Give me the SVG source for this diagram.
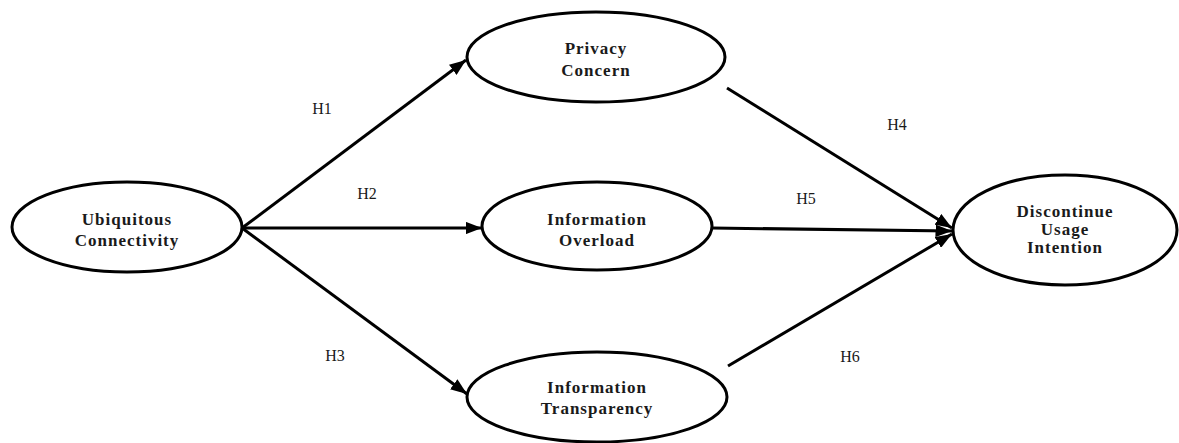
<svg xmlns="http://www.w3.org/2000/svg" width="1179" height="443" viewBox="0 0 1179 443">
<style>
.node ellipse{fill:#fff;stroke:#000;stroke-width:3}
.node text{font-family:"Liberation Serif","Times New Roman",serif;font-weight:bold;font-size:17px;letter-spacing:1px;text-anchor:middle;fill:#1a1a1a}
.edge{stroke:#000;stroke-width:3;fill:none;marker-end:url(#arr)}
.lbl{font-family:"Liberation Serif","Times New Roman",serif;font-size:16px;text-anchor:middle;fill:#1a1a1a}
</style>
<defs>
<marker id="arr" viewBox="0 0 10 10" refX="10" refY="5" markerWidth="5.5" markerHeight="4.2" orient="auto" markerUnits="strokeWidth" preserveAspectRatio="none">
<path d="M0,0 L10,5 L0,10 Z" fill="#000"/>
</marker>
</defs>
<rect width="1179" height="443" fill="#fff"/>
<g id="connectors">
<line class="edge" x1="242" y1="228" x2="466" y2="60"/>
<line class="edge" x1="242" y1="228" x2="482" y2="228"/>
<line class="edge" x1="242" y1="228" x2="467" y2="394"/>
<line class="edge" x1="727" y1="88" x2="952" y2="228"/>
<line class="edge" x1="712" y1="228" x2="952" y2="231"/>
<line class="edge" x1="728" y1="366" x2="952" y2="234"/>
<text class="lbl" x="322" y="114">H1</text>
<text class="lbl" x="367" y="199">H2</text>
<text class="lbl" x="335" y="361">H3</text>
<text class="lbl" x="897" y="130">H4</text>
<text class="lbl" x="806" y="204">H5</text>
<text class="lbl" x="850" y="362">H6</text>
</g>
<g id="ubiquitous" class="node">
<ellipse cx="127" cy="227" rx="115" ry="45"/>
<text x="127" y="225">Ubiquitous</text>
<text x="127" y="246">Connectivity</text>
</g>
<g id="privacy" class="node">
<ellipse cx="596" cy="57" rx="129" ry="45"/>
<text x="596" y="54">Privacy</text>
<text x="596" y="76">Concern</text>
</g>
<g id="overload" class="node">
<ellipse cx="597" cy="226" rx="115" ry="44"/>
<text x="597" y="225">Information</text>
<text x="597" y="246">Overload</text>
</g>
<g id="transparency" class="node">
<ellipse cx="597" cy="397" rx="130" ry="45"/>
<text x="597" y="393">Information</text>
<text x="597" y="414">Transparency</text>
</g>
<g id="discontinue" class="node">
<ellipse cx="1065" cy="230" rx="112" ry="55"/>
<text x="1065" y="217">Discontinue</text>
<text x="1065" y="235">Usage</text>
<text x="1065" y="253">Intention</text>
</g>
</svg>
